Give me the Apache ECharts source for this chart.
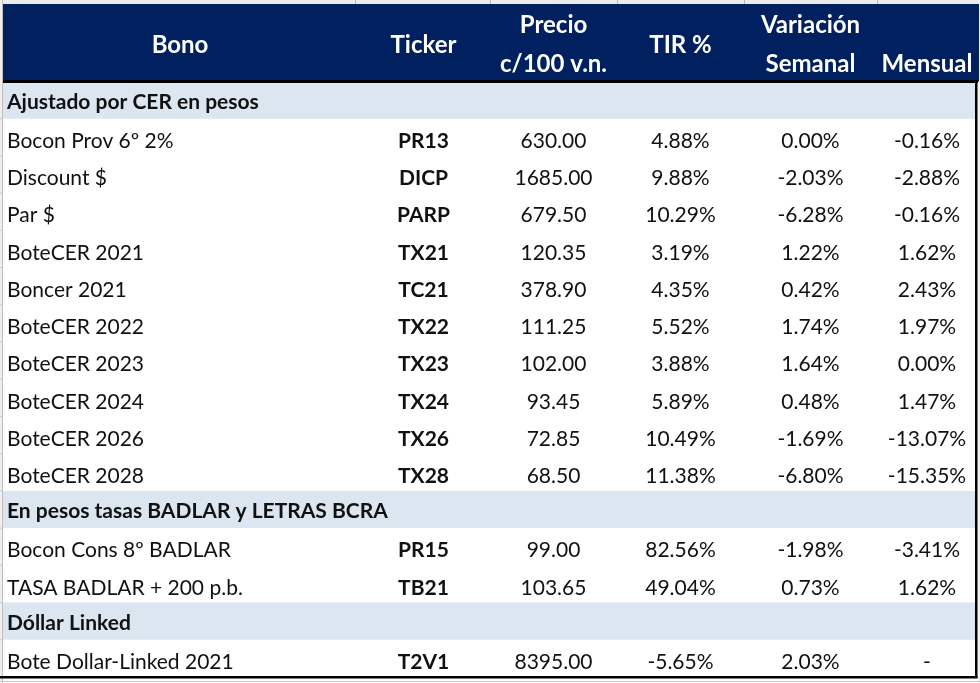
<!DOCTYPE html>
<html><head><meta charset="utf-8">
<script src="https://cdn.jsdelivr.net/npm/echarts@6.0.0/dist/echarts.min.js"></script>
<style>html,body{margin:0;padding:0;background:#fff}#c{width:980px;height:683px}</style>
</head><body><div id="c"></div>
<script>
// ---- data ----
const headerLine1 = ['', '', 'Precio', '', 'Variación', ''];
const headerLine2 = ['', '', 'c/100 v.n.', '', 'Semanal', 'Mensual'];
const headerSingle = ['Bono', 'Ticker', '', 'TIR %', '', ''];
const sections = ['Ajustado por CER en pesos', 'En pesos tasas BADLAR y LETRAS BCRA', 'Dóllar Linked'];
const sectionSizes = [10, 2, 1];
const bonos = ['Bocon Prov 6º 2%', 'Discount $', 'Par $', 'BoteCER 2021', 'Boncer 2021', 'BoteCER 2022', 'BoteCER 2023', 'BoteCER 2024', 'BoteCER 2026', 'BoteCER 2028', 'Bocon Cons 8º BADLAR', 'TASA BADLAR + 200 p.b.', 'Bote Dollar-Linked 2021'];
const tickers = ['PR13', 'DICP', 'PARP', 'TX21', 'TC21', 'TX22', 'TX23', 'TX24', 'TX26', 'TX28', 'PR15', 'TB21', 'T2V1'];
const precios = [630.00, 1685.00, 679.50, 120.35, 378.90, 111.25, 102.00, 93.45, 72.85, 68.50, 99.00, 103.65, 8395.00];
const tir = [4.88, 9.88, 10.29, 3.19, 4.35, 5.52, 3.88, 5.89, 10.49, 11.38, 82.56, 49.04, -5.65];
const semanal = [0.00, -2.03, -6.28, 1.22, 0.42, 1.74, 1.64, 0.48, -1.69, -6.80, -1.98, 0.73, 2.03];
const mensual = [-0.16, -2.88, -0.16, 1.62, 2.43, 1.97, 0.00, 1.47, -13.07, -15.35, -3.41, 1.62, null];

// ---- layout ----
const colWidths = [354, 133, 127, 127, 133, 100];
const colStart = [];
let acc = 0;
colWidths.forEach(w => { colStart.push(acc); acc += w; });
const totalW = acc;
const headerUnits = 2.08;

const pct = v => v === null ? '-' : v.toFixed(2) + '%';
const rows = [];
let k = 0;
sections.forEach((s, si) => {
  rows.push({ band: true, cells: [s] });
  for (let j = 0; j < sectionSizes[si]; j++, k++) {
    rows.push({ band: false, cells: [bonos[k], tickers[k], precios[k].toFixed(2), pct(tir[k]), pct(semanal[k]), pct(mensual[k])] });
  }
});

const FONT = 'Lato';
const chart = echarts.init(document.getElementById('c'), null, { renderer: 'canvas' });

function renderRow(params, api) {
  const i = api.value(0);
  const r = rows[i];
  const tl = api.coord([0, i]);
  const br = api.coord([totalW, i + 1]);
  const ch = [];
  if (r.band) {
    ch.push({ type: 'rect', shape: { x: tl[0], y: tl[1], width: br[0] - tl[0], height: br[1] - tl[1] }, style: { fill: '#dce6f1' } });
  }
  ch.push({ type: 'line', shape: { x1: 0, y1: br[1], x2: tl[0], y2: br[1] }, style: { stroke: '#c8c8c8', lineWidth: 1 } });
  const yMid = (tl[1] + br[1]) / 2;
  if (r.band) {
    ch.push({ type: 'text', style: { text: r.cells[0], x: tl[0] + 4, y: yMid + 2, fill: '#111', font: 'bold 21px ' + FONT, textAlign: 'left', textVerticalAlign: 'middle', align: 'left', verticalAlign: 'middle' } });
  } else {
    r.cells.forEach((t, c) => {
      const left = c === 0;
      const x = left ? api.coord([colStart[0], i])[0] + 4 : api.coord([colStart[c] + colWidths[c] / 2, i])[0];
      const font = (c === 1 ? 'bold ' : '') + '21px ' + FONT;
      ch.push({ type: 'text', style: { text: t, x: x, y: yMid + 4, fill: '#111', font: font, textAlign: left ? 'left' : 'center', textVerticalAlign: 'middle', align: left ? 'left' : 'center', verticalAlign: 'middle' } });
    });
  }
  return { type: 'group', children: ch };
}

function renderHeader(params, api) {
  const tl = api.coord([0, -headerUnits]);
  const br = api.coord([totalW, 0]);
  const h = br[1] - tl[1];
  const ch = [{ type: 'rect', shape: { x: tl[0], y: tl[1], width: br[0] - tl[0] + 2, height: h }, style: { fill: '#002060' } }];
  const add = (t, c, fy) => {
    if (!t) return;
    const x = api.coord([colStart[c] + colWidths[c] / 2, 0])[0];
    ch.push({ type: 'text', style: { text: t, x: x, y: tl[1] + h * fy, fill: '#ffffff', font: 'bold 24px ' + FONT, textAlign: 'center', textVerticalAlign: 'middle', align: 'center', verticalAlign: 'middle' } });
  };
  headerSingle.forEach((t, c) => add(t, c, 0.53));
  headerLine1.forEach((t, c) => add(t, c, 0.28));
  headerLine2.forEach((t, c) => add(t, c, 0.78));
  ch.push({ type: 'rect', shape: { x: tl[0], y: br[1] - 1.5, width: br[0] - tl[0] + 1, height: 3 }, style: { fill: '#000' } });
  return { type: 'group', children: ch };
}

function renderFrame(params, api) {
  const tl = api.coord([0, 0]);
  const br = api.coord([totalW, rows.length]);
  return { type: 'group', children: [
    { type: 'rect', shape: { x: br[0] - 2, y: tl[1], width: 2.5, height: br[1] - tl[1] + 1 }, style: { fill: '#000' } },
    { type: 'rect', shape: { x: 0, y: br[1] - 1, width: br[0] + 0.5, height: 2.5 }, style: { fill: '#000' } }
  ] };
}

const gridLinesX = [355, 490, 617, 744, 877];
chart.setOption({
  animation: false,
  backgroundColor: '#ffffff',
  grid: { left: 3, width: totalW, top: 4, bottom: 6 },
  xAxis: { type: 'value', min: 0, max: totalW, show: false },
  yAxis: { type: 'value', min: -headerUnits, max: rows.length, inverse: true, show: false },
  graphic: [
    { type: 'rect', shape: { x: 0, y: 0, width: 980, height: 4 }, style: { fill: '#ececec' }, z: -1 },
    { type: 'rect', shape: { x: 0, y: 0, width: 3, height: 683 }, style: { fill: '#efefef' }, z: -1 },
    { type: 'line', shape: { x1: 2.5, y1: 0, x2: 2.5, y2: 683 }, style: { stroke: '#bdbdbd', lineWidth: 1 }, z: -1 },
    { type: 'rect', shape: { x: 978, y: 0, width: 2, height: 683 }, style: { fill: '#f2f2f2' }, z: -1 },
    { type: 'line', shape: { x1: 0, y1: 681.5, x2: 980, y2: 681.5 }, style: { stroke: '#c8c8c8', lineWidth: 1 }, z: -1 }
  ].concat(gridLinesX.map(x => ({ type: 'line', shape: { x1: x + 0.5, y1: 0, x2: x + 0.5, y2: 4 }, style: { stroke: '#b8b8b8', lineWidth: 1 }, z: -1 }))),
  series: [
    { type: 'custom', renderItem: renderRow, data: rows.map((r, i) => [i]), clip: false, silent: true },
    { type: 'custom', renderItem: renderHeader, data: [[0]], clip: false, silent: true },
    { type: 'custom', renderItem: renderFrame, data: [[0]], clip: false, silent: true, z: 5 }
  ]
});
</script></body></html>
